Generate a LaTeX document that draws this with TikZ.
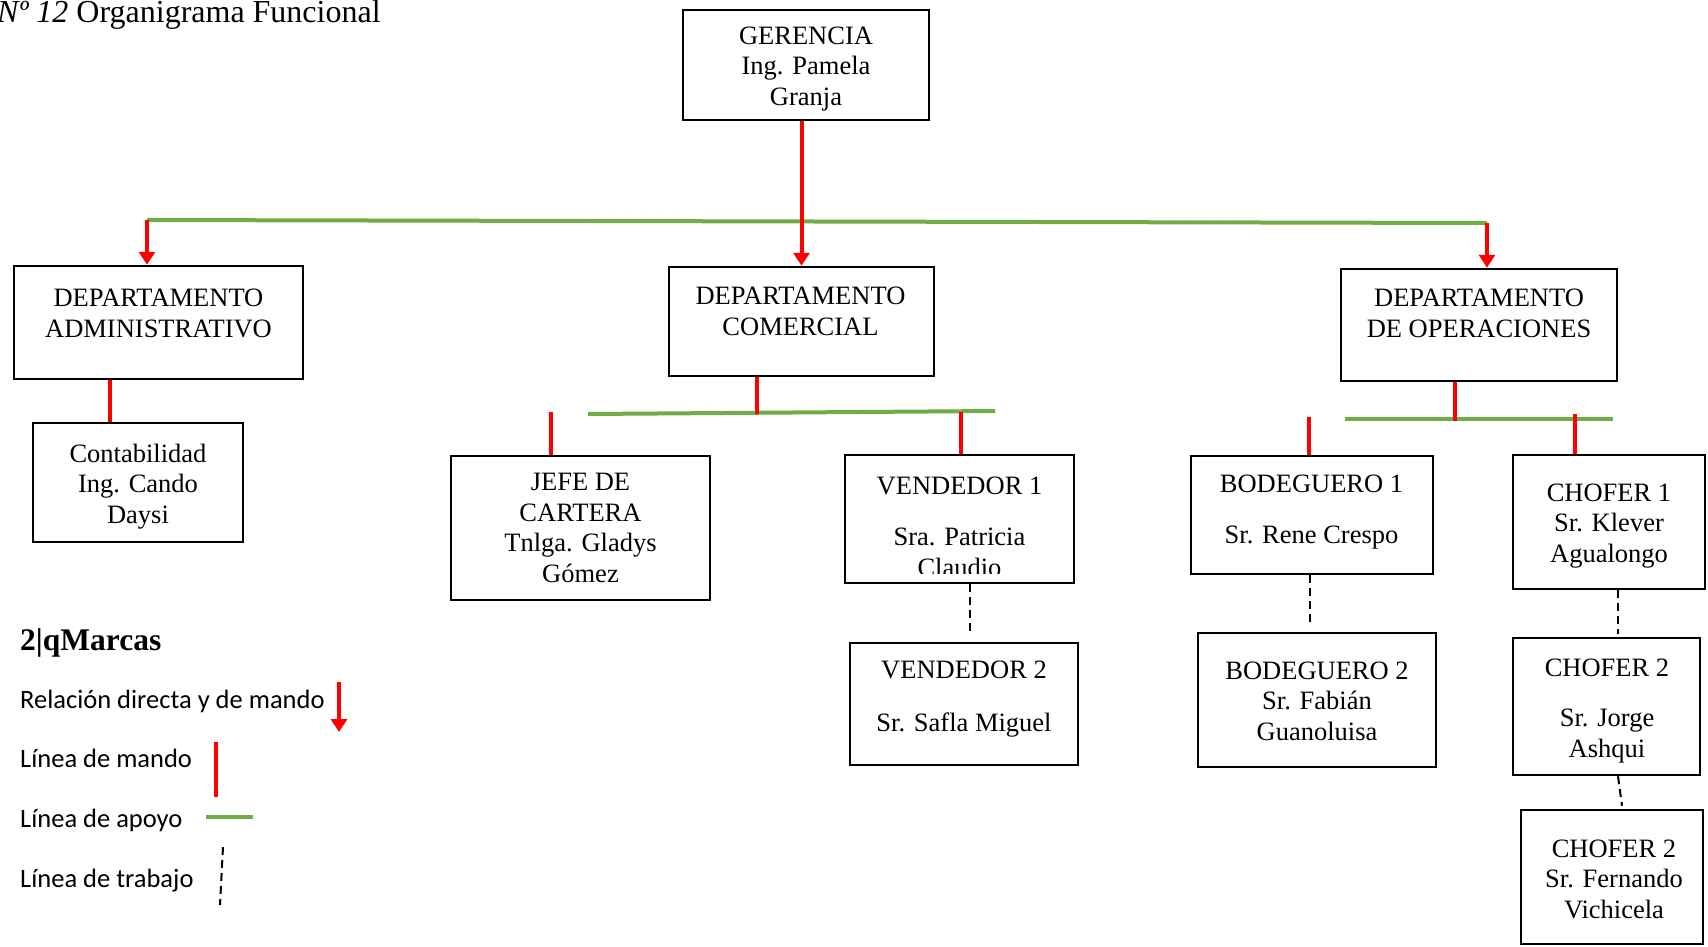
\documentclass[tikz,border=0pt]{standalone}
\usepackage{fontspec}
\setmainfont{Liberation Serif}
\newfontfamily\legendfont{Carlito}
\usetikzlibrary{arrows.meta}
\definecolor{mandored}{RGB}{255,0,0}
\definecolor{apoyogreen}{RGB}{112,173,71}
\tikzset{
  box/.style={draw=black, line width=2.5pt, inner sep=0pt, fill=none},
  % anchored at the baseline of the last line
  txt/.style={inner sep=0pt, align=center, anchor=base,
              font=\fontsize{26.5}{30.5}\selectfont},
  mando/.style={draw=mandored, line width=4pt},
  mandoarrow/.style={mando, -{Triangle[length=13pt,width=16pt]}},
  apoyo/.style={draw=apoyogreen, line width=4pt},
  trabajo/.style={draw=black, line width=2pt, dash pattern=on 8pt off 5pt},
  legtxt/.style={inner sep=0pt, anchor=base west,
                 font=\legendfont\fontsize{26.5}{30}\selectfont}
}
\begin{document}
\begin{tikzpicture}[x=1pt, y=-1pt]
\useasboundingbox (0,0) rectangle (1708,946);

% title
\node[inner sep=0pt, anchor=base west, font=\fontsize{32}{36}\selectfont] (title) at (-3,22)
  {\textit{Nº 12} Organigrama Funcional};

% boxes
\node[box, minimum width=246pt, minimum height=110pt] (ger)  at (806,65) {};
\node[box, minimum width=289pt, minimum height=113pt] (adm)  at (158.5,322.5) {};
\node[box, minimum width=210pt, minimum height=119pt] (cont) at (138,482.5) {};
\node[box, minimum width=265pt, minimum height=109pt] (com)  at (801.5,321.5) {};
\node[box, minimum width=276pt, minimum height=112pt] (ope)  at (1479,325) {};
\node[box, minimum width=259pt, minimum height=144pt] (jefe) at (580.5,528) {};
\node[box, minimum width=229pt, minimum height=128pt] (v1)   at (959.5,519) {};
\node[box, minimum width=228pt, minimum height=122pt] (v2)   at (964,704) {};
\node[box, minimum width=242pt, minimum height=118pt] (b1)   at (1312,515) {};
\node[box, minimum width=238pt, minimum height=134pt] (b2)   at (1317,700) {};
\node[box, minimum width=192pt, minimum height=134pt] (c1)   at (1609,522) {};
\node[box, minimum width=187pt, minimum height=137pt] (c2)   at (1606.5,706.5) {};
\node[box, minimum width=182pt, minimum height=134pt] (c3)   at (1612,877) {};

% box texts
\begin{scope}
  \clip (683,10) rectangle (929,110);
  \node[txt] (gerT) at (806,105) {GERENCIA\\Ing. Pamela\\Granja};
\end{scope}
\node[txt] (admT)  at (158.5,337) {DEPARTAMENTO\\ADMINISTRATIVO};
\node[txt] (contT) at (138,523) {Contabilidad\\Ing. Cando\\Daysi};
\node[txt] (comT)  at (800.5,335) {DEPARTAMENTO\\COMERCIAL};
\node[txt] (opeT)  at (1479,337) {DEPARTAMENTO\\DE OPERACIONES};
\node[txt] (jefeT) at (580.5,582) {JEFE DE\\CARTERA\\Tnlga. Gladys\\Gómez};
\begin{scope}
  \clip (845,455) rectangle (1074,573);
  \node[txt] (v1T) at (959.5,576) {VENDEDOR 1\\[21pt]Sra. Patricia\\Claudio};
\end{scope}
\node[txt] (v2T) at (964,731) {VENDEDOR 2\\[22pt]Sr. Safla Miguel};
\node[txt] (b1T) at (1311.5,543) {BODEGUERO 1\\[20pt]Sr. Rene Crespo};
\node[txt] (b2T) at (1317,740) {BODEGUERO 2\\Sr. Fabián\\Guanoluisa};
\node[txt] (c1T) at (1609,562) {CHOFER 1\\Sr. Klever\\Agualongo};
\node[txt] (c2T) at (1607,757) {CHOFER 2\\[20pt]Sr. Jorge\\Ashqui};
\node[txt] (c3T) at (1614,918) {CHOFER 2\\Sr. Fernando\\Vichicela};

% support lines
\coordinate (gl) at (147,220);
\coordinate (gr) at (1487,223);
\coordinate (cg1) at (588,414);
\coordinate (cg2) at (995,411);
\coordinate (og1) at (1345,419);
\coordinate (og2) at (1613,419);
\draw[apoyo] (gl) -- (gr);
\draw[apoyo] (cg1) -- (cg2);
\draw[apoyo] (og1) -- (og2);

% command lines
\draw[mandoarrow] (ger.south -| com.north) -- (com.north);
\draw[mandoarrow] (gl) -- (gl |- adm.north);
\draw[mandoarrow] (gr) -- (gr |- ope.north);
\draw[mando] ([xshift=-48.5pt]adm.south) -- ([xshift=-28pt]cont.north);
\draw[mando] ([xshift=-44.5pt]com.south) -- ++(0,37);
\draw[mando] ([xshift=-29.5pt]jefe.north) -- ++(0,-43);
\draw[mando] ([xshift=1.5pt]v1.north) -- ++(0,-42);
\draw[mando] ([xshift=-24pt]ope.south) -- ++(0,39);
\draw[mando] ([xshift=-3pt]b1.north) -- ++(0,-38);
\draw[mando] ([xshift=-34pt]c1.north) -- ++(0,-40);

% work lines
\draw[trabajo] ([xshift=10.5pt]v1.south) -- ([xshift=6pt,yshift=10pt]v2.north);
\draw[trabajo] ([xshift=-2pt]b1.south) -- ([xshift=-7pt,yshift=8pt]b2.north);
\draw[trabajo] ([xshift=9pt]c1.south) -- ([xshift=11.5pt,yshift=3pt]c2.north);
\draw[trabajo] ([xshift=11.5pt]c2.south) -- ([xshift=10pt,yshift=3pt]c3.north);

% legend
\node[inner sep=0pt, anchor=base west, font=\bfseries\fontsize{31.5}{36}\selectfont] (legT) at (20,650) {2|qMarcas};
\node[legtxt] (leg1) at (20,708) {Relación directa y de mando};
\node[legtxt] (leg2) at (20,767) {Línea de mando};
\node[legtxt] (leg3) at (20,827) {Línea de apoyo};
\node[legtxt] (leg4) at (20,887) {Línea de trabajo};
\coordinate (la1) at (339,682);
\coordinate (la2) at (339,732);
\coordinate (lm1) at (216,742);
\coordinate (lm2) at (216,797);
\coordinate (lg1) at (206,817);
\coordinate (lg2) at (253,817);
\coordinate (lt1) at (223,847);
\coordinate (lt2) at (220,905);
\draw[mandoarrow] (la1) -- (la2);
\draw[mando] (lm1) -- (lm2);
\draw[apoyo] (lg1) -- (lg2);
\draw[trabajo] (lt1) -- (lt2);
\end{tikzpicture}
\end{document}
